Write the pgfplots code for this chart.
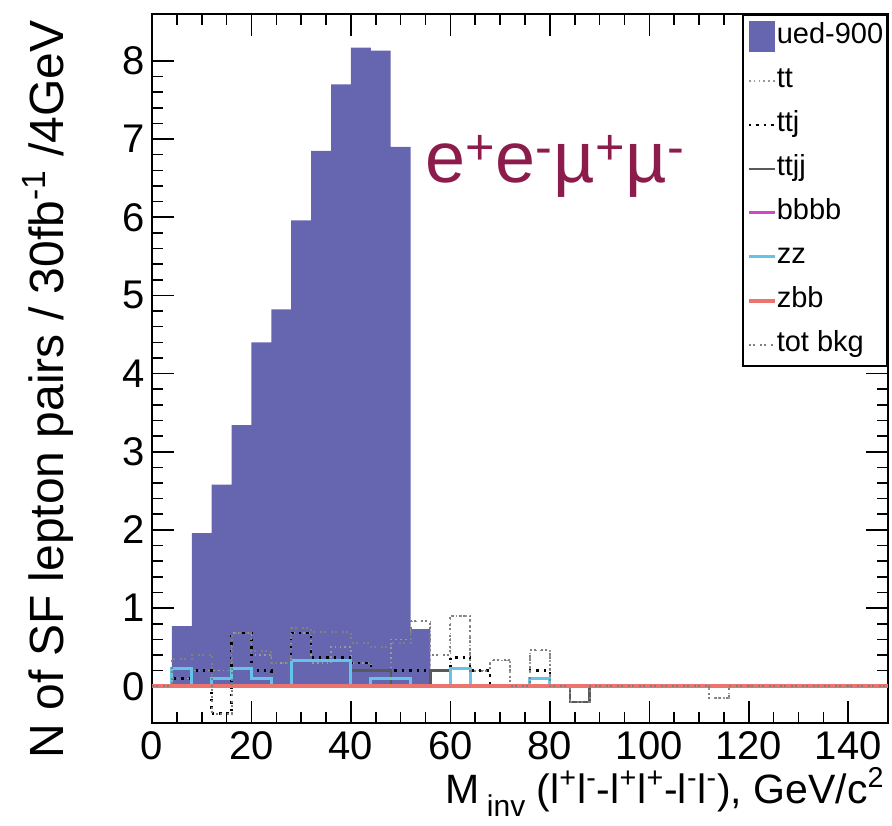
\documentclass[border=0pt]{standalone}
\usepackage{pgfplots}
\pgfplotsset{compat=1.18}
\usepackage{pgfplotstable}
\usepackage{fontspec}
\setmainfont{Liberation Sans}
\definecolor{uedc}{RGB}{102,102,176}
\definecolor{zzc}{RGB}{100,195,230}
\definecolor{zbbc}{RGB}{232,92,84}
\definecolor{bbbbc}{RGB}{210,70,200}
\definecolor{labc}{RGB}{140,28,75}

\pgfplotstableread{
x ued
4 0.77
8 1.96
12 2.58
16 3.34
20 4.40
24 4.82
28 5.96
32 6.85
36 7.70
40 8.17
44 8.13
48 6.90
52 0.73
56 0.73
}\uedtab

\pgfplotstableread{
x tt ttj ttjj bbbb zz zbb tot
0 0 0 0 0 0 0 0
4 0.1 0.1 0 0 0.23 0 0.35
8 0.2 0.2 0 0 0 0 0.4
12 0.2 -0.35 0 0 0.1 0 -0.35
16 0.68 0.68 0 0 0.23 0 0.68
20 0.4 0.2 0 0 0.1 0 0.45
24 0.3 0 0 0 0 0 0.3
28 0.68 0.68 0 0 0.33 0 0.75
32 0.3 0.37 0 0 0.33 0 0.7
36 0.5 0.37 0 0 0.33 0 0.7
40 0.3 0.3 0.2 0 0 0 0.55
44 0.2 0.2 0.2 0 0.1 0 0.5
48 0.6 0.2 0 0 0.1 0 0.55
52 0.83 0.2 0 0 0 0 0.83
56 0.2 0.2 0.2 0 0 0 0.4
60 0.9 0.37 0 0 0.23 0 0.9
64 0.2 0.2 0 0 0 0 0.2
68 0.33 0 0 0 0 0 0.33
72 0 0 0 0 0 0 0
76 0.46 0.2 0 0 0.1 0 0.46
80 0 0 0 0 0 0 0
84 0 0 -0.2 0 0 0 -0.2
88 0 0 0 0 0 0 0
92 0 0 0 0 0 0 0
96 0 0 0 0 0 0 0
100 0 0 0 0 0 0 0
104 0 0 0 0 0 0 0
108 0 0 0 0 0 0 0
112 -0.15 0 0 0 0 0 -0.15
116 0 0 0 0 0 0 0
120 0 0 0 0 0 0 0
124 0 0 0 0 0 0 0
128 0 0 0 0 0 0 0
132 0 0 0 0 0 0 0
136 0 0 0 0 0 0 0
140 0 0 0 0 0 0 0
144 0 0 0 0 0 0 0
148 0 0 0 0 0 0 0
}\bkgtab

\begin{document}
\begin{tikzpicture}
\begin{axis}[
  name=ax,
  scale only axis, width=368pt, height=354.5pt,
  xmin=0, xmax=148, ymin=-0.47, ymax=8.6,
  xtick={0,20,...,140}, minor x tick num=3,
  ytick={0,1,...,8}, minor y tick num=4,
  major tick length=11pt, minor tick length=5.5pt,
  tick style={black, line width=0.8pt},
  axis line style={black, line width=1pt},
  ticklabel style={font=\fontsize{20}{20}\selectfont},
  xticklabel style={inner sep=1pt, yshift=-3pt},
  /pgf/number format/assume math mode=true,
  legend cell align=left,
  legend image code/.code={\draw[#1] plot coordinates {(0pt,0pt) (13pt,0pt)};},
  legend style={at={(rel axis cs:1,1)}, anchor=north east, draw=black, line width=0.8pt,
    font=\fontsize{14.5}{16}\selectfont, inner xsep=2pt, inner ysep=3pt,
    row sep=7pt,
    nodes={inner sep=0pt, text height=11pt, text depth=4pt},
    /tikz/every even column/.append style={column sep=2.5pt}},
]
\addplot[const plot, fill=uedc, draw=none,
  legend image code/.code={\fill[uedc] (0pt,-7.75pt) rectangle (13pt,7.75pt);}]
  table[x=x, y=ued] {\uedtab} \closedcycle;
\addlegendentry{ued-900}
\addplot[const plot, gray!80, line width=0.8pt, dash pattern=on 0.8pt off 1.6pt] table[x=x, y=tt] {\bkgtab};
\addlegendentry{tt}
\addplot[const plot, black, line width=1.2pt, dash pattern=on 1.2pt off 2.5pt] table[x=x, y=ttj] {\bkgtab};
\addlegendentry{ttj}
\addplot[const plot, black!65, line width=1.2pt] table[x=x, y=ttjj] {\bkgtab};
\addlegendentry{ttjj}
\addplot[const plot, bbbbc, line width=1.3pt] table[x=x, y=bbbb] {\bkgtab};
\addlegendentry{bbbb}
\addplot[const plot, zzc, line width=1.5pt] table[x=x, y=zz] {\bkgtab};
\addlegendentry{zz}
\addplot[const plot, zbbc!85!white, line width=1.8pt] table[x=x, y=zbb] {\bkgtab};
\addlegendentry{zbb}
\addplot[const plot, gray, line width=1pt, dash pattern=on 1pt off 1pt on 1pt off 2.5pt] table[x=x, y=tot] {\bkgtab};
\addlegendentry{tot bkg}
\end{axis}
\path ([shift={(-76pt,-51pt)}]ax.south west) rectangle ([shift={(2pt,7pt)}]ax.north east);
\node[anchor=base east, rotate=90, inner sep=0pt, font=\fontsize{24}{24}\selectfont]
  at ([shift={(-44pt,-3pt)}]ax.north west) {N of SF lepton pairs / 30fb\textsuperscript{-1} /4GeV};
\node[anchor=base east, inner sep=0pt, font=\fontsize{20.5}{20.5}\selectfont]
  at ([shift={(-1.5pt,-40pt)}]ax.south east)
  {M\,\raisebox{-6.5pt}{\fontsize{15}{15}\selectfont inv} (l\textsuperscript{+}l\textsuperscript{-}-l\textsuperscript{+}l\textsuperscript{+}-l\textsuperscript{-}l\textsuperscript{-}), GeV/c\textsuperscript{2}};
\node[anchor=base west, inner sep=0pt, text=labc, font=\fontsize{36}{36}\selectfont]
  at ([shift={(136.5pt,270pt)}]ax.south west) {e\textsuperscript{+}e\textsuperscript{-}µ\textsuperscript{+}µ\textsuperscript{-}};
\end{tikzpicture}
\end{document}
